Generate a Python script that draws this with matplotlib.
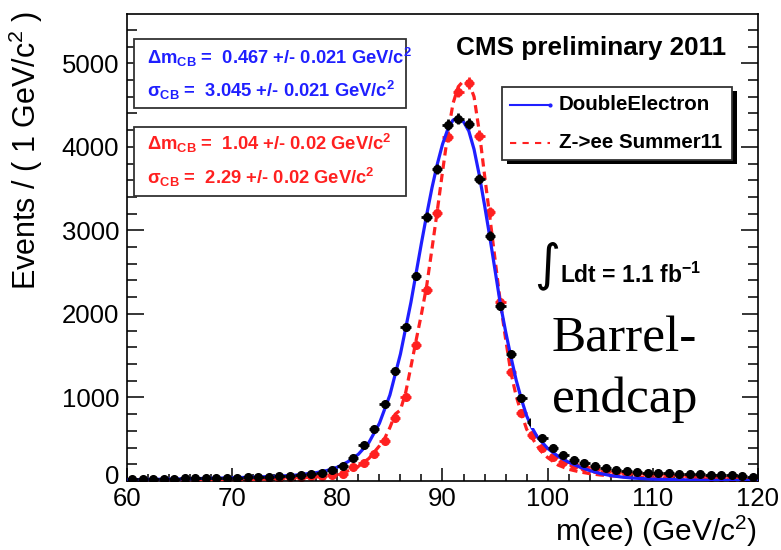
import numpy as np
import matplotlib
matplotlib.use("Agg")
import matplotlib.pyplot as plt
import matplotlib.transforms as mtransforms
from matplotlib.patches import Rectangle
from matplotlib.lines import Line2D
from matplotlib.ticker import MultipleLocator

plt.rcParams['font.family'] = ['Liberation Sans', 'DejaVu Sans']
plt.rcParams['mathtext.default'] = 'regular'

# ---- binned data (1 GeV bins, centres) ----
bin_centres = np.arange(60.5, 120.0, 1.0)

data_counts = [22, 24, 25, 26, 28, 30, 31, 33, 35, 37,
               40, 43, 47, 52, 57, 63, 72, 84, 96, 132,
               180, 275, 431, 623, 922, 1317, 1844, 2455, 3162, 3737,
               4263, 4335, 4275, 3617, 2934, 2096, 1521, 994, 707, 515,
               395, 311, 251, 216, 180, 156, 132, 120, 108, 100,
               95, 90, 84, 80, 78, 76, 72, 66, 55, 42]

mc_counts = [10, 11, 12, 13, 14, 15, 16, 18, 20, 22,
             24, 27, 30, 34, 38, 44, 50, 55, 60, 72,
             84, 168, 216, 323, 479, 754, 1006, 1629, 2287, 3210,
             4120, 4659, 4766, 4132, 3222, 2144, 1305, 814, 551, 395,
             287, 228, 192, 168, 144, 120, 108, 100, 92, 85,
             78, 72, 66, 60, 55, 50, 45, 40, 34, 26]

# ---- fitted line shapes ----
fit_data_x = [60, 65, 70, 74, 76, 78, 79, 80, 81, 82, 83, 84, 85, 86, 87, 88,
              88.5, 89, 89.5, 90, 90.5, 91, 91.5, 92, 92.5, 93, 93.5, 94,
              94.5, 95, 95.5, 96, 96.5, 97, 97.5, 98, 98.5, 99, 100, 101,
              102, 103, 104, 105, 106, 107, 108, 110, 115, 120]
fit_data_y = [15, 25, 38, 55, 70, 100, 125, 165, 230, 320, 460, 690, 1030, 1520,
              2140, 2850, 3190, 3510, 3790, 4030, 4210, 4320, 4350, 4300, 4190,
              3970, 3660, 3300, 2920, 2520, 2120, 1790, 1490, 1210, 980, 780,
              640, 530, 390, 295, 225, 170, 125, 90, 65, 48, 36, 22, 9, 4]

fit_mc_x = [60, 65, 70, 75, 78, 79, 80, 81, 82, 83, 84, 84.5, 85, 85.5, 86,
            86.5, 87, 87.5, 88, 88.5, 89, 89.5, 90, 90.5, 91, 91.5, 92, 92.5,
            93, 93.5, 94, 94.5, 95, 95.5, 96, 96.5, 97, 97.5, 98, 98.5, 99,
            99.5, 100, 101, 102, 103, 104, 105, 107, 110, 115, 120]
fit_mc_y = [5, 8, 14, 28, 48, 60, 80, 120, 175, 270, 420, 510, 640, 800, 850,
            1060, 1370, 1690, 2000, 2340, 2780, 3230, 3700, 4150, 4520, 4720,
            4790, 4770, 4600, 4180, 3660, 3160, 2650, 2140, 1700, 1300, 1020,
            810, 620, 520, 420, 340, 280, 190, 140, 110, 88, 72, 52, 35, 20, 12]

x_ticks = [60, 70, 80, 90, 100, 110, 120]
y_ticks = [0, 1000, 2000, 3000, 4000, 5000]

blue = '#1f1fff'
red = '#ff2020'

W, H = 781, 550
fig = plt.figure(figsize=(W / 100, H / 100), dpi=100)


def fx(px):
    return px / W


def fy(py):
    return 1 - py / H


ax = fig.add_axes([fx(127), fy(481), (758 - 127) / W, (481 - 14) / H])
ax.set_xlim(60, 120)
ax.set_ylim(0, 5590)
ax.set_xticks(x_ticks)
ax.set_yticks(y_ticks)
ax.xaxis.set_minor_locator(MultipleLocator(2))
ax.yaxis.set_minor_locator(MultipleLocator(200))
ax.tick_params(axis='both', which='both', direction='in', labelsize=18.5,
               width=1.1, right=True)
ax.tick_params(axis='y', which='major', length=12.5, pad=5.5)
ax.tick_params(axis='y', which='minor', length=7)
ax.tick_params(axis='x', which='major', length=9.5, pad=4)
ax.tick_params(axis='x', which='minor', length=5)
for sp in ax.spines.values():
    sp.set_linewidth(1.2)

# lift the "0" label a little so it clears the first x label
zero_label = ax.yaxis.get_majorticklabels()[0]
zero_label.set_transform(zero_label.get_transform() +
                         mtransforms.ScaledTranslation(0, 6 / 100,
                                                       fig.dpi_scale_trans))

# MC histogram points and fit
mc_err = np.sqrt(mc_counts)
ax.errorbar(bin_centres, mc_counts, xerr=0.5, yerr=mc_err, fmt='o', ms=5.5,
            color=red, ecolor=red, elinewidth=2, capsize=0, zorder=2)
ax.plot(fit_mc_x, fit_mc_y, color=red, lw=2.3, ls=(0, (2.6, 1.6)), zorder=3)

# data points and fit
ax.plot(fit_data_x, fit_data_y, color=blue, lw=2.3, zorder=4)
data_err = np.sqrt(data_counts)
ax.errorbar(bin_centres, data_counts, xerr=0.5, yerr=data_err, fmt='o', ms=5.5,
            color='black', ecolor='black', elinewidth=2, capsize=0, zorder=5)

# axis titles
fig.text(fx(26), fy(150), 'Events / ( 1 GeV/c$^{2}$ )', rotation=90,
         ha='center', va='center', fontsize=22)
fig.text(fx(757), fy(549), 'm(ee) (GeV/c$^{2}$)', ha='right', va='bottom',
         fontsize=21.5)

# fit result boxes
def stat_box(y0, y1, lines, color):
    fig.add_artist(Rectangle((fx(134), fy(y1)), (406 - 134) / W, (y1 - y0) / H,
                             transform=fig.transFigure, facecolor='white',
                             edgecolor='#333333', lw=1.3, zorder=10))
    for (yy, s) in lines:
        fig.text(fx(147), fy(yy), s, color=color, fontsize=13.2,
                 fontweight='bold', ha='left', va='center', zorder=11)


stat_box(39, 108, [(57, 'Δm$_{CB}$ =  0.467 +/- 0.021 GeV/c$^{2}$'),
                   (90, 'σ$_{CB}$ =  3.045 +/- 0.021 GeV/c$^{2}$')], blue)
stat_box(127, 196, [(143, 'Δm$_{CB}$ =  1.04 +/- 0.02 GeV/c$^{2}$'),
                    (177, 'σ$_{CB}$ =  2.29 +/- 0.02 GeV/c$^{2}$')], red)

# legend with drop shadow
fig.add_artist(Rectangle((fx(507), fy(164)), (732 - 502) / W, (160 - 87) / H,
                         transform=fig.transFigure, facecolor='black',
                         edgecolor='none', zorder=10))
fig.add_artist(Rectangle((fx(502), fy(160)), (732 - 502) / W, (160 - 87) / H,
                         transform=fig.transFigure, facecolor='white',
                         edgecolor='#333333', lw=1.3, zorder=11))
fig.add_artist(Line2D([fx(510), fx(550)], [fy(105), fy(105)], color=blue,
                      lw=1.5, marker='.', markevery=[1], ms=4,
                      transform=fig.transFigure, zorder=12))
fig.add_artist(Line2D([fx(510), fx(550)], [fy(143), fy(143)], color=red,
                      lw=1.5, ls=(0, (3, 3)), transform=fig.transFigure,
                      zorder=12))
fig.text(fx(559), fy(105), 'DoubleElectron', fontsize=14.8, fontweight='bold',
         ha='left', va='center', zorder=12)
fig.text(fx(559), fy(143), 'Z->ee Summer11', fontsize=14.8, fontweight='bold',
         ha='left', va='center', zorder=12)

fig.text(fx(456), fy(48), 'CMS preliminary 2011', fontsize=18.8,
         fontweight='bold', ha='left', va='center', zorder=12)

# luminosity
fig.text(fx(547), fy(266), '∫', family='DejaVu Sans', fontsize=36,
         ha='center', va='center', zorder=6)
fig.text(fx(560), fy(283), 'Ldt = 1.1 fb$^{-1}$', fontsize=16.5,
         fontweight='bold', ha='left', va='baseline', zorder=6)

# category label on white panel
fig.add_artist(Rectangle((fx(531), fy(428)), (742 - 531) / W, (428 - 295) / H,
                         transform=fig.transFigure, facecolor='white',
                         edgecolor='none', zorder=7))
fig.text(fx(552), fy(352), 'Barrel-', family='Liberation Serif', fontsize=37,
         ha='left', va='baseline', zorder=8)
fig.text(fx(552), fy(412), 'endcap', family='Liberation Serif', fontsize=37,
         ha='left', va='baseline', zorder=8)

fig.savefig('out.png', dpi=100)
